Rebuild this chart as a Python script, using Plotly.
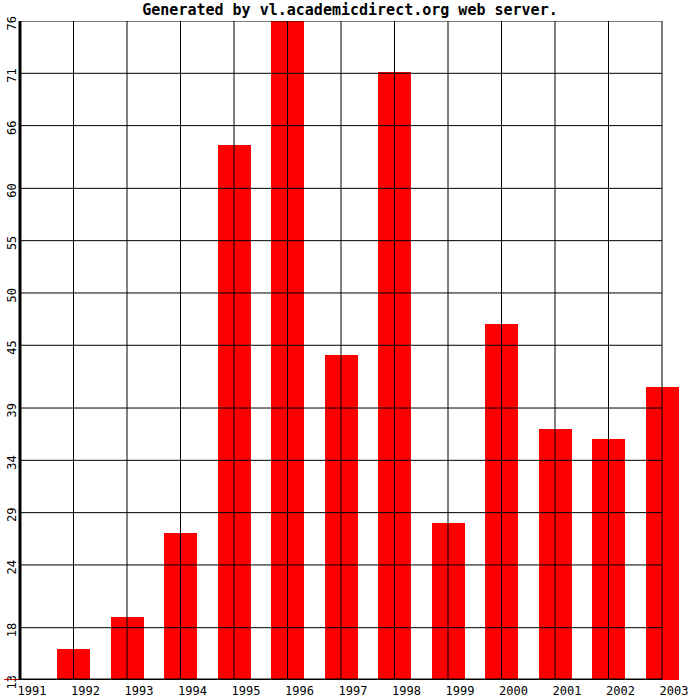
import plotly.graph_objects as go

# ── data ─────────────────────────────────────────────
years = [1991, 1992, 1993, 1994, 1995, 1996, 1997, 1998, 1999, 2000, 2001, 2002, 2003]
counts = [13.1, 16.0, 19.0, 27.05, 64.1, 76.0, 44.1, 71.15, 28.04, 47.03, 37.0, 36.04, 41.0]
y_ticks = [13, 18, 24, 29, 34, 39, 45, 50, 55, 60, 66, 71, 76]
title_text = "Generated by vl.academicdirect.org web server."

W, H = 700, 700
LEFT_PX, RIGHT_PX = 20, 662          # where first / last year sit
TOP_PX, BOTTOM_PX = 21, 680
FONT = "DejaVu Sans Mono"

px_per_year = (RIGHT_PX - LEFT_PX) / (years[-1] - years[0])
x_range = [years[0] - LEFT_PX / px_per_year,
           years[-1] + (W - RIGHT_PX) / px_per_year]
y_range = [y_ticks[0], y_ticks[-1]]

fig = go.Figure()
fig.add_trace(go.Bar(x=years, y=counts, width=33 / px_per_year,
                     marker=dict(color="#ff0000", line=dict(width=0)),
                     showlegend=False, hoverinfo="x+y"))

# grid drawn on top of the bars, bounded by first / last year
shapes = []
for v in y_ticks:
    shapes.append(dict(type="line", xref="x", yref="y", layer="above",
                       x0=years[0], x1=years[-1], y0=v, y1=v,
                       line=dict(color="black", width=1)))
for yr in years:
    shapes.append(dict(type="line", xref="x", yref="y", layer="above",
                       x0=yr, x1=yr, y0=y_range[0], y1=y_range[1],
                       line=dict(color="black", width=1)))
# thick axes
shapes.append(dict(type="line", xref="x", yref="y", layer="above",
                   x0=years[0], x1=years[-1], y0=y_range[0], y1=y_range[0],
                   line=dict(color="black", width=3)))
shapes.append(dict(type="line", xref="x", yref="y", layer="above",
                   x0=years[0], x1=years[0], y0=y_range[0], y1=y_range[1],
                   line=dict(color="black", width=3)))

fig.update_layout(
    width=W, height=H,
    margin=dict(l=0, r=0, t=TOP_PX, b=H - BOTTOM_PX, pad=0),
    paper_bgcolor="white", plot_bgcolor="white",
    shapes=shapes,
    bargap=0,
    font=dict(family=FONT, size=12, color="black"),
    title=dict(text=title_text, x=0.5, xanchor="center", y=1 - 10 / H, yanchor="middle",
               font=dict(family=FONT, size=15, color="black", weight="bold")),
    xaxis=dict(range=x_range, tickvals=years, ticktext=[str(y) for y in years],
               showgrid=False, zeroline=False, showline=False, ticks="",
               ticklabelshift=12, ticklabelstandoff=2,
               tickfont=dict(family=FONT, size=12, color="black")),
    yaxis=dict(range=y_range, tickvals=y_ticks, ticktext=[str(v) for v in y_ticks],
               anchor="free", position=LEFT_PX / W,
               showgrid=False, zeroline=False, showline=False, ticks="",
               tickangle=-90, ticklabelshift=4, ticklabelstandoff=2,
               tickfont=dict(family=FONT, size=12, color="black")),
)

# the page body has a default 8px margin; drop it so the chart sits at 0,0
fig.write_html("out.html", config={"displayModeBar": False},
               post_script="document.body.style.margin='0';")
